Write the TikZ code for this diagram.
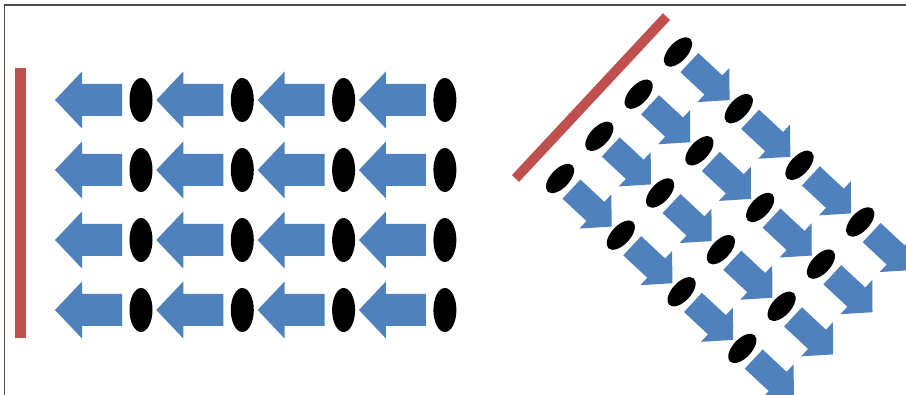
\documentclass[tikz,border=0pt]{standalone}
\usepackage{tikz}
\usetikzlibrary{shapes.geometric}
\definecolor{barred}{HTML}{C0504D}
\definecolor{flowblue}{HTML}{4F81BD}
\definecolor{framegray}{HTML}{4A4A4A}
\tikzset{
  dot/.style={ellipse, fill=black, inner sep=0pt, minimum width=23pt, minimum height=44pt},
  wall/.style={rectangle, fill=barred, inner sep=0pt, minimum width=#1, minimum height=270pt},
  wall/.default=11pt,
  flow/.pic={\fill[flowblue] (-33.5,-16) -- (6.5,-16) -- (6.5,-28.5) -- (33.5,0) -- (6.5,28.5) -- (6.5,16) -- (-33.5,16) -- cycle;},
}

\begin{document}
\begin{tikzpicture}[x=1pt, y=-1pt]
  \useasboundingbox (0,0) rectangle (906,395);
  \clip (0,0) rectangle (906,395);
  \fill[white] (0,0) rectangle (906,395);
  \draw[framegray, line width=1.5pt] (4.5,395) -- (4.5,5) -- (906,5);
  % upright wall, flow runs towards it
  \node[wall] (lbar) at (20.5,203) {};
  \foreach \r in {0,...,3} \foreach \c in {0,...,3} {
    \pic[rotate=180] at (141+101.3*\c-52.5, 100+70*\r) {flow};
    \node[dot] (l-\r-\c) at (141+101.3*\c, 100+70*\r) {};
  }
  % tilted wall, flow runs away from it
  \begin{scope}[shift={(678,52)}, rotate=-43, scale=0.82, transform shape]
    \node[wall=12pt] (rbar) at (-39.7,113) {};
    \foreach \r in {0,...,3} \foreach \c in {0,...,3} {
      \pic at (101.3*\c+52.5, 70.3*\r) {flow};
      \node[dot] (r-\r-\c) at (101.3*\c, 70.3*\r) {};
    }
  \end{scope}
\end{tikzpicture}
\end{document}
